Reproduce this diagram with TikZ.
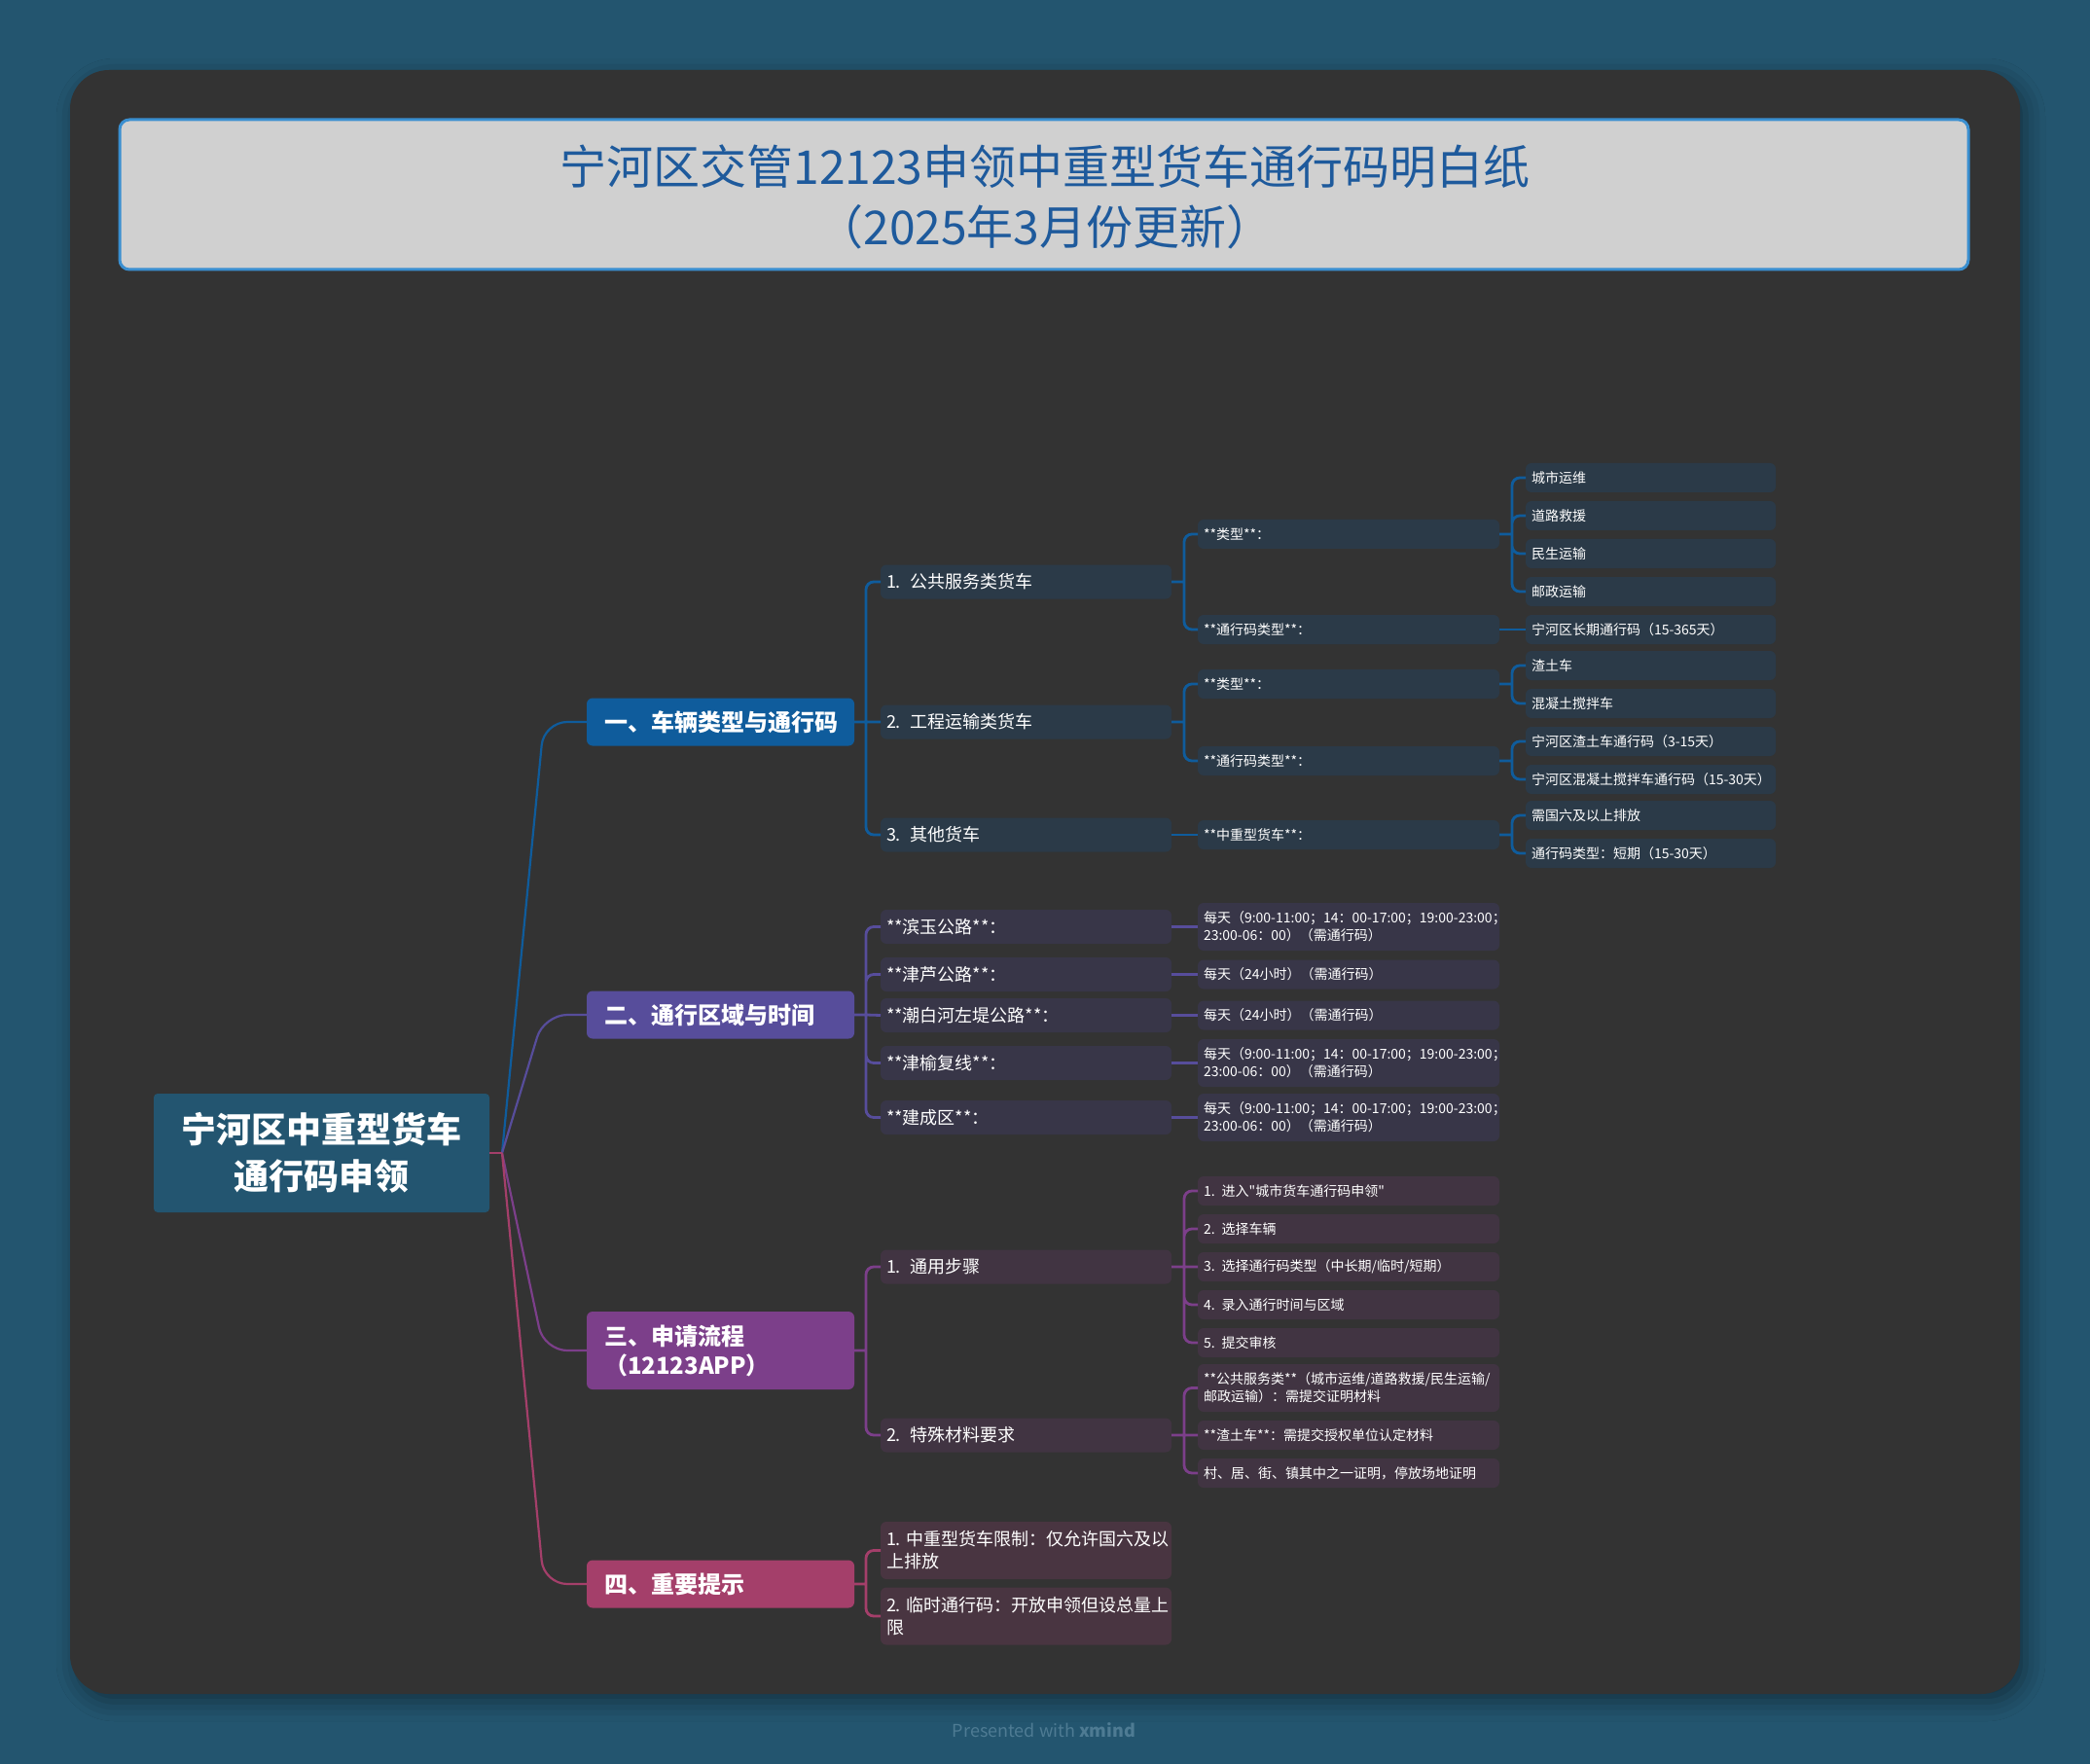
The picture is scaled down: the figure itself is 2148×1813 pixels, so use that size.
\documentclass[tikz,border=0pt]{standalone}
\usepackage{fontspec}
\setmainfont{Noto Sans CJK SC}[Ligatures=TeXOff]
\usetikzlibrary{positioning}
\usetikzlibrary{shadows.blur}

\exhyphenpenalty=10000
\hyphenpenalty=10000

\definecolor{pagebg}{HTML}{23556F}
\definecolor{cardbg}{HTML}{333333}
\definecolor{titlebg}{HTML}{D0D0D0}
\definecolor{titleline}{HTML}{3A8FD0}
\definecolor{titletext}{HTML}{1E5A9C}
\definecolor{rootbg}{HTML}{235570}
\definecolor{bone}{HTML}{0F5C9C}
\definecolor{btwo}{HTML}{574D9B}
\definecolor{bthree}{HTML}{7C3F8A}
\definecolor{bfour}{HTML}{A43F6A}
\definecolor{fone}{HTML}{2B3A48}
\definecolor{ftwo}{HTML}{383648}
\definecolor{fthree}{HTML}{413442}
\definecolor{ffour}{HTML}{493541}
\definecolor{foottext}{HTML}{4E7B93}

\tikzset{
	every node/.style={inner sep=0pt,outer sep=0pt},
	rootbox/.style={fill=rootbg,text=white,rounded corners=2pt,anchor=west,
		minimum width=172.5pt,minimum height=61pt,align=center,
		font=\bfseries\fontsize{18}{24}\selectfont},
	lvone/.style={fill=#1,text=white,rounded corners=3pt,anchor=west,
		text width=119.5pt,inner xsep=9pt,minimum height=24.5pt,align=left,
		font=\bfseries\fontsize{12}{15}\selectfont},
	lvtwo/.style={fill=#1,text=white,rounded corners=3pt,anchor=west,
		text width=143.5pt,inner xsep=3pt,minimum height=17.5pt,align=left,
		font=\fontsize{9}{11.5}\selectfont},
	lvthree/.style={fill=#1,text=white,rounded corners=3pt,anchor=west,
		text width=149pt,inner xsep=3pt,minimum height=15pt,align=left,
		font=\fontsize{7}{9}\selectfont},
	leafbox/.style={fill=#1,text=white,rounded corners=3pt,anchor=west,
		text width=122.5pt,inner xsep=3pt,minimum height=15pt,align=left,
		font=\fontsize{7}{9}\selectfont},
	link/.style={line width=1.4pt,rounded corners=4pt},
}

\begin{document}
\begin{tikzpicture}[x=0.5pt,y=-0.5pt]
		
		% page and card..................
		\useasboundingbox (0,0) rectangle (2148,1813);
		\fill [pagebg] (0,0) rectangle (2148,1813);
		\fill [cardbg, rounded corners=20pt, blur shadow={shadow xshift=3pt, shadow yshift=-4pt, shadow blur radius=10pt, shadow opacity=40}] (72,72) rectangle (2076,1741);
		
		% title..........................
		\draw [fill=titlebg, draw=titleline, line width=1.5pt, rounded corners=5pt] (123,123) rectangle (2023,277);
		\node [text=titletext, align=center, font=\fontsize{24}{31}\selectfont] (title) at (1074,202) {宁河区交管12123申领中重型货车通行码明白纸\\（2025年3月份更新）};
		
		% root...........................
		\node [rootbox] (root) at (158,1185) {宁河区中重型货车\\通行码申领};
		
		% main branches..................
		\node [lvone=bone] (vehicle) at (603,742) {一、车辆类型与通行码};
		\node [lvone=btwo] (zone) at (603,1043) {二、通行区域与时间};
		\node [lvone=bthree, minimum height=40pt] (apply) at (603,1388) {三、申请流程\\（12123APP）};
		\node [lvone=bfour] (notice) at (603,1628) {四、重要提示};
		
		% vehicle branch.................
		\node [lvtwo=fone] (pub) at (905,598) {1. 公共服务类货车};
		\node [lvtwo=fone] (eng) at (905,742) {2. 工程运输类货车};
		\node [lvtwo=fone] (oth) at (905,858) {3. 其他货车};
		\node [lvthree=fone] (pubtype) at (1231,549) {**类型**：};
		\node [lvthree=fone] (pubcode) at (1231,647) {**通行码类型**：};
		\node [lvthree=fone] (engtype) at (1231,703) {**类型**：};
		\node [lvthree=fone] (engcode) at (1231,782) {**通行码类型**：};
		\node [lvthree=fone] (othtype) at (1231,858) {**中重型货车**：};
		\node [leafbox=fone] (city) at (1568,491) {城市运维};
		\node [leafbox=fone] (rescue) at (1568,530) {道路救援};
		\node [leafbox=fone] (living) at (1568,569) {民生运输};
		\node [leafbox=fone] (post) at (1568,608) {邮政运输};
		\node [leafbox=fone] (longcode) at (1568,647) {宁河区长期通行码（15-365天）};
		\node [leafbox=fone] (muck) at (1568,684) {渣土车};
		\node [leafbox=fone] (mixer) at (1568,723) {混凝土搅拌车};
		\node [leafbox=fone] (muckcode) at (1568,762) {宁河区渣土车通行码（3-15天）};
		\node [leafbox=fone] (mixercode) at (1568,801) {宁河区混凝土搅拌车通行码（15-30天）};
		\node [leafbox=fone] (emission) at (1568,838) {需国六及以上排放};
		\node [leafbox=fone] (shortcode) at (1568,877) {通行码类型：短期（15-30天）};
		
		% zone branch....................
		\node [lvtwo=ftwo] (binyu) at (905,952.5) {**滨玉公路**：};
		\node [lvtwo=ftwo] (jinlu) at (905,1001.5) {**津芦公路**：};
		\node [lvtwo=ftwo] (chaobai) at (905,1043.5) {**潮白河左堤公路**：};
		\node [lvtwo=ftwo] (jinyu) at (905,1092.5) {**津榆复线**：};
		\node [lvtwo=ftwo] (jiancheng) at (905,1148.5) {**建成区**：};
		\node [lvthree=ftwo, minimum height=24.5pt] (binyutime) at (1231,952.5) {每天（9:00-11:00；14：00-17:00；19:00-23:00；\\23:00-06：00）（需通行码）};
		\node [lvthree=ftwo] (jinlutime) at (1231,1001.5) {每天（24小时）（需通行码）};
		\node [lvthree=ftwo] (chaobaitime) at (1231,1043.5) {每天（24小时）（需通行码）};
		\node [lvthree=ftwo, minimum height=24.5pt] (jinyutime) at (1231,1092.5) {每天（9:00-11:00；14：00-17:00；19:00-23:00；\\23:00-06：00）（需通行码）};
		\node [lvthree=ftwo, minimum height=24.5pt] (jianchengtime) at (1231,1148.5) {每天（9:00-11:00；14：00-17:00；19:00-23:00；\\23:00-06：00）（需通行码）};
		
		% apply branch...................
		\node [lvtwo=fthree] (steps) at (905,1302) {1. 通用步骤};
		\node [lvtwo=fthree] (papers) at (905,1475) {2. 特殊材料要求};
		\node [lvthree=fthree] (stepa) at (1231,1224) {1. 进入"城市货车通行码申领"};
		\node [lvthree=fthree] (stepb) at (1231,1263) {2. 选择车辆};
		\node [lvthree=fthree] (stepc) at (1231,1302) {3. 选择通行码类型（中长期/临时/短期）};
		\node [lvthree=fthree] (stepd) at (1231,1341) {4. 录入通行时间与区域};
		\node [lvthree=fthree] (stepe) at (1231,1380) {5. 提交审核};
		\node [lvthree=fthree, minimum height=24.5pt] (papera) at (1231,1426.5) {**公共服务类**（城市运维/道路救援/民生运输/\\邮政运输）：需提交证明材料};
		\node [lvthree=fthree] (paperb) at (1231,1475) {**渣土车**：需提交授权单位认定材料};
		\node [lvthree=fthree] (paperc) at (1231,1514) {村、居、街、镇其中之一证明，停放场地证明};
		
		% notice branch..................
		\node [lvtwo=ffour, minimum height=29.5pt] (limit) at (905,1593.5) {1.~中重型货车限制：仅允许国六及以\\上排放};
		\node [lvtwo=ffour, minimum height=29.5pt] (tempcode) at (905,1661) {2.~临时通行码：开放申领但设总量上\\限};
		
		% root links.....................
		\coordinate (hub) at (516,1185);
		\draw [link, line width=1.1pt, bone, rounded corners=12pt] (hub) -- ([xshift=-22pt]vehicle.west) -- (vehicle.west);
		\draw [link, line width=1.1pt, btwo, rounded corners=12pt] (hub) -- ([xshift=-22pt]zone.west) -- (zone.west);
		\draw [link, line width=1.1pt, bthree, rounded corners=12pt] (hub) -- ([xshift=-22pt]apply.west) -- (apply.west);
		\draw [link, line width=1.1pt, bfour, rounded corners=12pt] (hub) -- ([xshift=-22pt]notice.west) -- (notice.west);
		\draw [link, line width=1.1pt, bfour] (root.east) -- (hub);
		
		% vehicle links..................
		\draw [link, bone] (vehicle.east) -- ++(6pt,0) coordinate (vj) (vj) |- (pub.west) (vj) -- (eng.west) (vj) |- (oth.west);
		\draw [link, bone] (pub.east) -- ++(6.5pt,0) coordinate (pj) (pj) |- (pubtype.west) (pj) |- (pubcode.west);
		\draw [link, bone] (eng.east) -- ++(6.5pt,0) coordinate (ej) (ej) |- (engtype.west) (ej) |- (engcode.west);
		\draw [link, bone] (oth.east) -- (othtype.west);
		\draw [link, bone] (pubtype.east) -- ++(6.5pt,0) coordinate (ptj) (ptj) |- (city.west) (ptj) |- (rescue.west) (ptj) |- (living.west) (ptj) |- (post.west);
		\draw [link, bone] (pubcode.east) -- (longcode.west);
		\draw [link, bone] (engtype.east) -- ++(6.5pt,0) coordinate (etj) (etj) |- (muck.west) (etj) |- (mixer.west);
		\draw [link, bone] (engcode.east) -- ++(6.5pt,0) coordinate (ecj) (ecj) |- (muckcode.west) (ecj) |- (mixercode.west);
		\draw [link, bone] (othtype.east) -- ++(6.5pt,0) coordinate (otj) (otj) |- (emission.west) (otj) |- (shortcode.west);
		
		% zone links.....................
		\draw [link, btwo] (zone.east) -- ++(6pt,0) coordinate (zj) (zj) |- (binyu.west) (zj) |- (jinlu.west) (zj) -- (chaobai.west) (zj) |- (jinyu.west) (zj) |- (jiancheng.west);
		\draw [link, btwo] (binyu.east) -- (binyutime.west);
		\draw [link, btwo] (jinlu.east) -- (jinlutime.west);
		\draw [link, btwo] (chaobai.east) -- (chaobaitime.west);
		\draw [link, btwo] (jinyu.east) -- (jinyutime.west);
		\draw [link, btwo] (jiancheng.east) -- (jianchengtime.west);
		
		% apply links....................
		\draw [link, bthree] (apply.east) -- ++(6pt,0) coordinate (aj) (aj) |- (steps.west) (aj) |- (papers.west);
		\draw [link, bthree] (steps.east) -- ++(6.5pt,0) coordinate (sj) (sj) |- (stepa.west) (sj) |- (stepb.west) (sj) -- (stepc.west) (sj) |- (stepd.west) (sj) |- (stepe.west);
		\draw [link, bthree] (papers.east) -- ++(6.5pt,0) coordinate (mj) (mj) |- (papera.west) (mj) -- (paperb.west) (mj) |- (paperc.west);
		
		% notice links...................
		\draw [link, bfour] (notice.east) -- ++(6pt,0) coordinate (nj) (nj) |- (limit.west) (nj) |- (tempcode.west);
		
		% footer.........................
		\node [text=foottext, font=\fontsize{9}{11}\selectfont] (credit) at (1073,1778) {Presented with \textbf{xmind}};
		
	\end{tikzpicture}
\end{document}
